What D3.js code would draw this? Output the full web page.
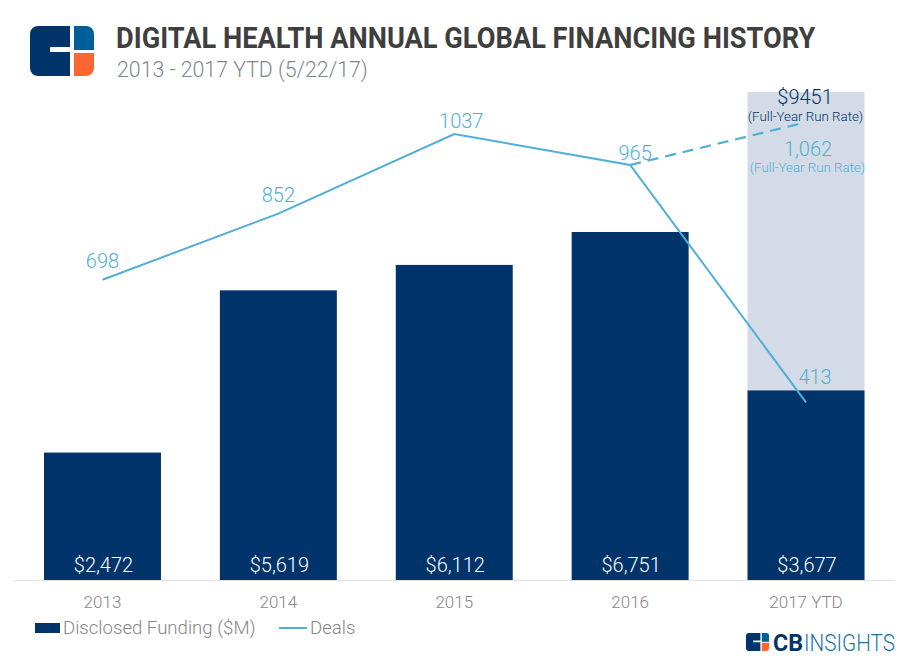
<!DOCTYPE html>
<html>
<head>
<meta charset="utf-8">
<script src="https://cdn.jsdelivr.net/npm/d3@7"></script>
<style>
body { margin: 0; background: #fff; }
text { font-family: Roboto, sans-serif; }
</style>
</head>
<body>
<svg id="chart" width="909" height="660"></svg>
<script>
const years = ['2013', '2014', '2015', '2016', '2017 YTD'];
const funding = [2472, 5619, 6112, 6751, 3677];
const deals = [698, 852, 1037, 965, 413];
const runRateFunding = 9451;
const runRateDeals = 1062;

const navy = '#00346a';
const sky = '#4fafd6';
const grey = '#868686';
const baseY = 580;

const svg = d3.select('#chart');

const x = d3.scaleBand().domain(years).range([44, 864.5]).paddingInner(0.335).paddingOuter(0);
const yFunding = d3.scaleLinear().domain([0, runRateFunding]).range([baseY, 92.8]);
const yDeals = d3.scaleLinear().domain([0, 1037]).range([baseY, 134]);
const cx = d => x(d) + x.bandwidth() / 2;
const lastYear = years[years.length - 1];

// logo
function logo(g, s) {
    g.append('path').attr('fill', navy)
        .attr('d', `M${8*s},0H${40*s}V${21*s}H${20*s}V${26*s}H${40*s}V${50*s}H${8*s}A${8*s},${8*s} 0 0 1 0,${42*s}V${8*s}A${8*s},${8*s} 0 0 1 ${8*s},0Z`);
    g.append('path').attr('fill', '#005f99')
        .attr('d', `M${44*s},0H${56*s}A${8*s},${8*s} 0 0 1 ${64*s},${8*s}V${24*s}H${44*s}Z`);
    g.append('path').attr('fill', '#ff6633')
        .attr('d', `M${44*s},${27*s}H${64*s}V${42*s}A${8*s},${8*s} 0 0 1 ${56*s},${50*s}H${44*s}Z`);
}
logo(svg.append('g').attr('transform', 'translate(30,26)'), 1);

// squeeze a text to a given width, roboto has no condensed cut here
function fitWidth(sel, left, baseline, width) {
    const natural = sel.node().getComputedTextLength();
    sel.attr('transform', `translate(${left},${baseline}) scale(${width / natural},1)`);
}

// title
fitWidth(svg.append('text')
    .attr('font-size', 30).attr('font-weight', 700).attr('fill', '#3f3f3f')
    .text('DIGITAL HEALTH ANNUAL GLOBAL FINANCING HISTORY'), 116, 47.5, 700);
svg.append('text').attr('x', 117).attr('y', 77)
    .attr('font-size', 21.3).attr('font-weight', 300).attr('fill', '#7d8791')
    .text('2013 - 2017 YTD (5/22/17)');

// full-year run rate bar behind the ytd bar
svg.append('rect')
    .attr('x', x(lastYear)).attr('width', x.bandwidth())
    .attr('y', 92)
    .attr('height', baseY - 92)
    .attr('fill', '#d3dbe6');

svg.selectAll('rect.bar').data(funding).enter().append('rect')
    .attr('class', 'bar')
    .attr('x', (d, i) => x(years[i]))
    .attr('width', x.bandwidth())
    .attr('y', d => yFunding(d))
    .attr('height', d => baseY - yFunding(d))
    .attr('fill', navy);

svg.selectAll('text.value').data(funding).enter().append('text')
    .attr('class', 'value')
    .attr('x', (d, i) => cx(years[i]) + 1)
    .attr('y', baseY - 8)
    .attr('text-anchor', 'middle')
    .attr('font-size', 20).attr('font-weight', 300).attr('fill', '#fff')
    .text(d => '$' + d3.format(',')(d));

// x axis
const axis = svg.append('g')
    .attr('transform', `translate(0,${baseY})`)
    .call(d3.axisBottom(x).tickSize(0).tickPadding(16));
axis.select('.domain').remove();
axis.selectAll('text')
    .style('font-family', 'Roboto, sans-serif')
    .attr('font-size', 17).attr('font-weight', 300).attr('fill', grey);
svg.append('line').attr('x1', 14).attr('x2', 895).attr('y1', baseY + 0.5).attr('y2', baseY + 0.5)
    .attr('stroke', '#e3e3e3');

// deals line
const line = d3.line().x((d, i) => cx(years[i])).y(d => yDeals(d));
svg.append('path').datum(deals)
    .attr('d', line).attr('fill', 'none').attr('stroke', sky).attr('stroke-width', 2);

const dashed = [deals[3], runRateDeals];
svg.append('path').datum(dashed)
    .attr('d', d3.line().x((d, i) => cx(years[3 + i]) - i * 4).y(d => yDeals(d)))
    .attr('fill', 'none').attr('stroke', sky).attr('stroke-width', 2.2)
    .attr('stroke-dasharray', '11,7');

const dealDx = [0, 0, 7, 5, 9];
const dealDy = [-12, -12, -6, -5, -18];
svg.selectAll('text.deal').data(deals).enter().append('text')
    .attr('class', 'deal')
    .attr('x', (d, i) => cx(years[i]) + dealDx[i])
    .attr('y', (d, i) => yDeals(d) + dealDy[i])
    .attr('text-anchor', 'middle')
    .attr('font-size', 20).attr('font-weight', 300).attr('fill', sky)
    .text(d => d);

// run rate labels
const rrX = cx(lastYear);
svg.append('text').attr('x', rrX - 1).attr('y', 104).attr('text-anchor', 'middle')
    .attr('font-size', 20).attr('font-weight', 300).attr('fill', navy)
    .text('$' + runRateFunding);
svg.append('text').attr('x', rrX - 0.5).attr('y', 121).attr('text-anchor', 'middle')
    .attr('font-size', 13.3).attr('font-weight', 300).attr('fill', navy)
    .text('(Full-Year Run Rate)');
svg.append('text').attr('x', rrX + 2).attr('y', 156).attr('text-anchor', 'middle')
    .attr('font-size', 20).attr('font-weight', 300).attr('fill', sky)
    .text(d3.format(',')(runRateDeals));
svg.append('text').attr('x', rrX + 1.5).attr('y', 172).attr('text-anchor', 'middle')
    .attr('font-size', 13.3).attr('font-weight', 300).attr('fill', sky)
    .text('(Full-Year Run Rate)');

// legend
svg.append('rect').attr('x', 35).attr('y', 623).attr('width', 25).attr('height', 10).attr('fill', navy);
svg.append('text').attr('x', 63).attr('y', 634)
    .attr('font-size', 18.6).attr('font-weight', 300).attr('fill', grey)
    .text('Disclosed Funding ($M)');
svg.append('line').attr('x1', 279).attr('x2', 307).attr('y1', 628).attr('y2', 628)
    .attr('stroke', sky).attr('stroke-width', 2);
svg.append('text').attr('x', 310).attr('y', 634)
    .attr('font-size', 18.6).attr('font-weight', 300).attr('fill', grey)
    .text('Deals');

// footer logo
logo(svg.append('g').attr('transform', 'translate(746,633)'), 0.36);
fitWidth(svg.append('text')
    .attr('font-size', 24).attr('font-weight', 700).attr('fill', navy)
    .text('CB'), 773, 650.5, 30);
fitWidth(svg.append('text')
    .attr('font-size', 24).attr('font-weight', 300).attr('fill', '#1c74a8')
    .text('INSIGHTS'), 804, 650.5, 91);
</script>
</body>
</html>
